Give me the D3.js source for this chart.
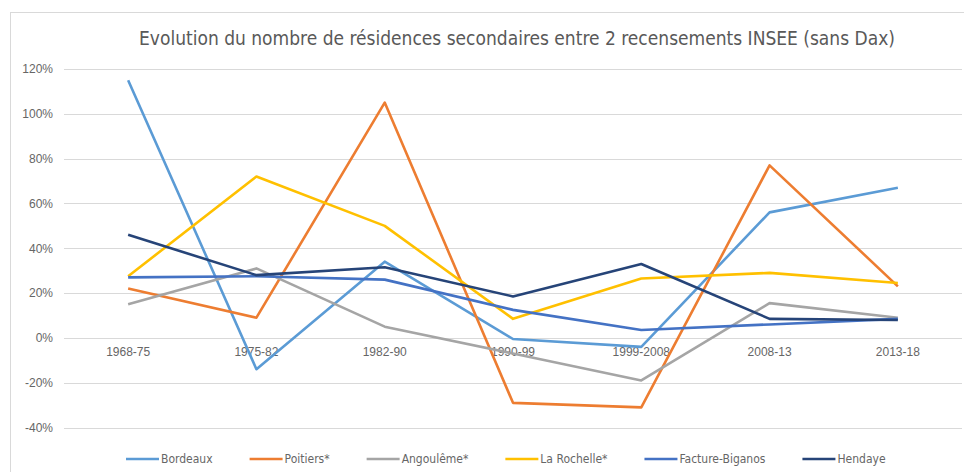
<!DOCTYPE html>
<html>
<head>
<meta charset="utf-8">
<script src="https://cdn.jsdelivr.net/npm/d3@7"></script>
<style>
  body { margin: 0; background: #fff; }
  svg { display: block; font-family: "Liberation Sans Narrow", "DejaVu Sans Condensed", sans-serif; }
</style>
</head>
<body>
<svg id="chart"></svg>
<script>
// data
const periods = ["1968-75", "1975-82", "1982-90", "1990-99", "1999-2008", "2008-13", "2013-18"];
const cities = ["Bordeaux", "Poitiers*", "Angoulême*", "La Rochelle*", "Facture-Biganos", "Hendaye"];
const bordeaux = [115, -14, 34, -0.5, -4, 56, 67];
const poitiers = [22, 9, 105, -29, -31, 77, 23];
const angouleme = [15, 31, 5, -7, -19, 15.5, 9];
const laRochelle = [27.5, 72, 50, 8.5, 26.5, 29, 24.5];
const factureBiganos = [27, 27.5, 26, 12.5, 3.5, 6, 8.5];
const hendaye = [46, 28, 31.5, 18.5, 33, 8.5, 8];
const yTicks = [-40, -20, 0, 20, 40, 60, 80, 100, 120];
const title = "Evolution du nombre de résidences secondaires entre 2 recensements INSEE (sans Dax)";

class LineChart {
    constructor (config, series) {
        this.config = {
            parent: config.parent,
            width: config.width || 964,
            height: config.height || 472,
            colors: config.colors
        };
        this.series = series;
        this.init();
    }

    init() {
        let self = this;

        self.svg = d3.select(self.config.parent)
            .attr('width', self.config.width)
            .attr('height', self.config.height);

        // cadre du graphique (coupé à droite et en bas)
        self.svg.append('rect')
            .attr('x', 10.5).attr('y', 12.5)
            .attr('width', 1000).attr('height', 500)
            .attr('fill', '#fff')
            .attr('stroke', '#d9d9d9');

        self.xscale = d3.scaleBand()
            .domain(periods)
            .range([64, 962]);

        self.yscale = d3.scaleLinear()
            .domain([-40, 120])
            .range([427.5, 69]);

        self.color = d3.scaleOrdinal()
            .domain(cities)
            .range(self.config.colors);
    }

    render() {
        let self = this;

        // grille
        self.svg.append('g')
            .selectAll('line')
            .data(yTicks)
            .join('line')
            .attr('x1', self.xscale.range()[0])
            .attr('x2', self.xscale.range()[1])
            .attr('y1', d => Math.round(self.yscale(d)) + 0.5)
            .attr('y2', d => Math.round(self.yscale(d)) + 0.5)
            .attr('stroke', '#d9d9d9')
            .attr('stroke-width', 1);

        // axe y
        const yaxis = d3.axisLeft(self.yscale)
            .tickValues(yTicks)
            .tickSize(0)
            .tickPadding(0)
            .tickFormat(d => d + '%');
        const yg = self.svg.append('g')
            .attr('transform', 'translate(53,0)')
            .call(yaxis);
        yg.select('.domain').remove();
        yg.selectAll('text')
            .attr('fill', '#666')
            .style('font-size', '12px');

        // axe x (libellés sous la ligne 0)
        const xaxis = d3.axisBottom(self.xscale)
            .tickSize(0)
            .tickPadding(10);
        const xg = self.svg.append('g')
            .attr('transform', `translate(0, ${self.yscale(0)})`)
            .call(xaxis);
        xg.select('.domain').remove();
        xg.selectAll('text')
            .attr('fill', '#666')
            .style('font-size', '12px');

        // courbes
        const line = d3.line()
            .x((d, i) => self.xscale(periods[i]) + self.xscale.bandwidth() / 2)
            .y(d => self.yscale(d));

        self.svg.append('g')
            .selectAll('path')
            .data(self.series)
            .join('path')
            .attr('d', d => line(d.values))
            .attr('fill', 'none')
            .attr('stroke', d => self.color(d.name))
            .attr('stroke-width', 2.6)
            .attr('stroke-linejoin', 'round');

        // titre
        self.svg.append('text')
            .attr('x', 517)
            .attr('y', 45)
            .attr('text-anchor', 'middle')
            .attr('fill', '#595959')
            .style('font-size', '19px')
            .text(title);

        // légende
        const legend = self.svg.append('g')
            .attr('transform', 'translate(126, 459)');
        let x = 0;
        self.series.forEach(s => {
            const item = legend.append('g').attr('transform', `translate(${x},0)`);
            item.append('line')
                .attr('x1', 0).attr('x2', 33)
                .attr('stroke', self.color(s.name))
                .attr('stroke-width', 2.6);
            const t = item.append('text')
                .attr('x', 35)
                .attr('dy', '0.35em')
                .attr('fill', '#666')
                .style('font-size', '12px')
                .text(s.name);
            x += 35 + t.node().getComputedTextLength() + 37;
        });
    }
}

const series = [
    {name: cities[0], values: bordeaux},
    {name: cities[1], values: poitiers},
    {name: cities[2], values: angouleme},
    {name: cities[3], values: laRochelle},
    {name: cities[4], values: factureBiganos},
    {name: cities[5], values: hendaye}
];

const chart = new LineChart({
    parent: '#chart',
    colors: ['#5b9bd5', '#ed7d31', '#a5a5a5', '#ffc000', '#4472c4', '#264478']
}, series);
chart.render();
</script>
</body>
</html>
